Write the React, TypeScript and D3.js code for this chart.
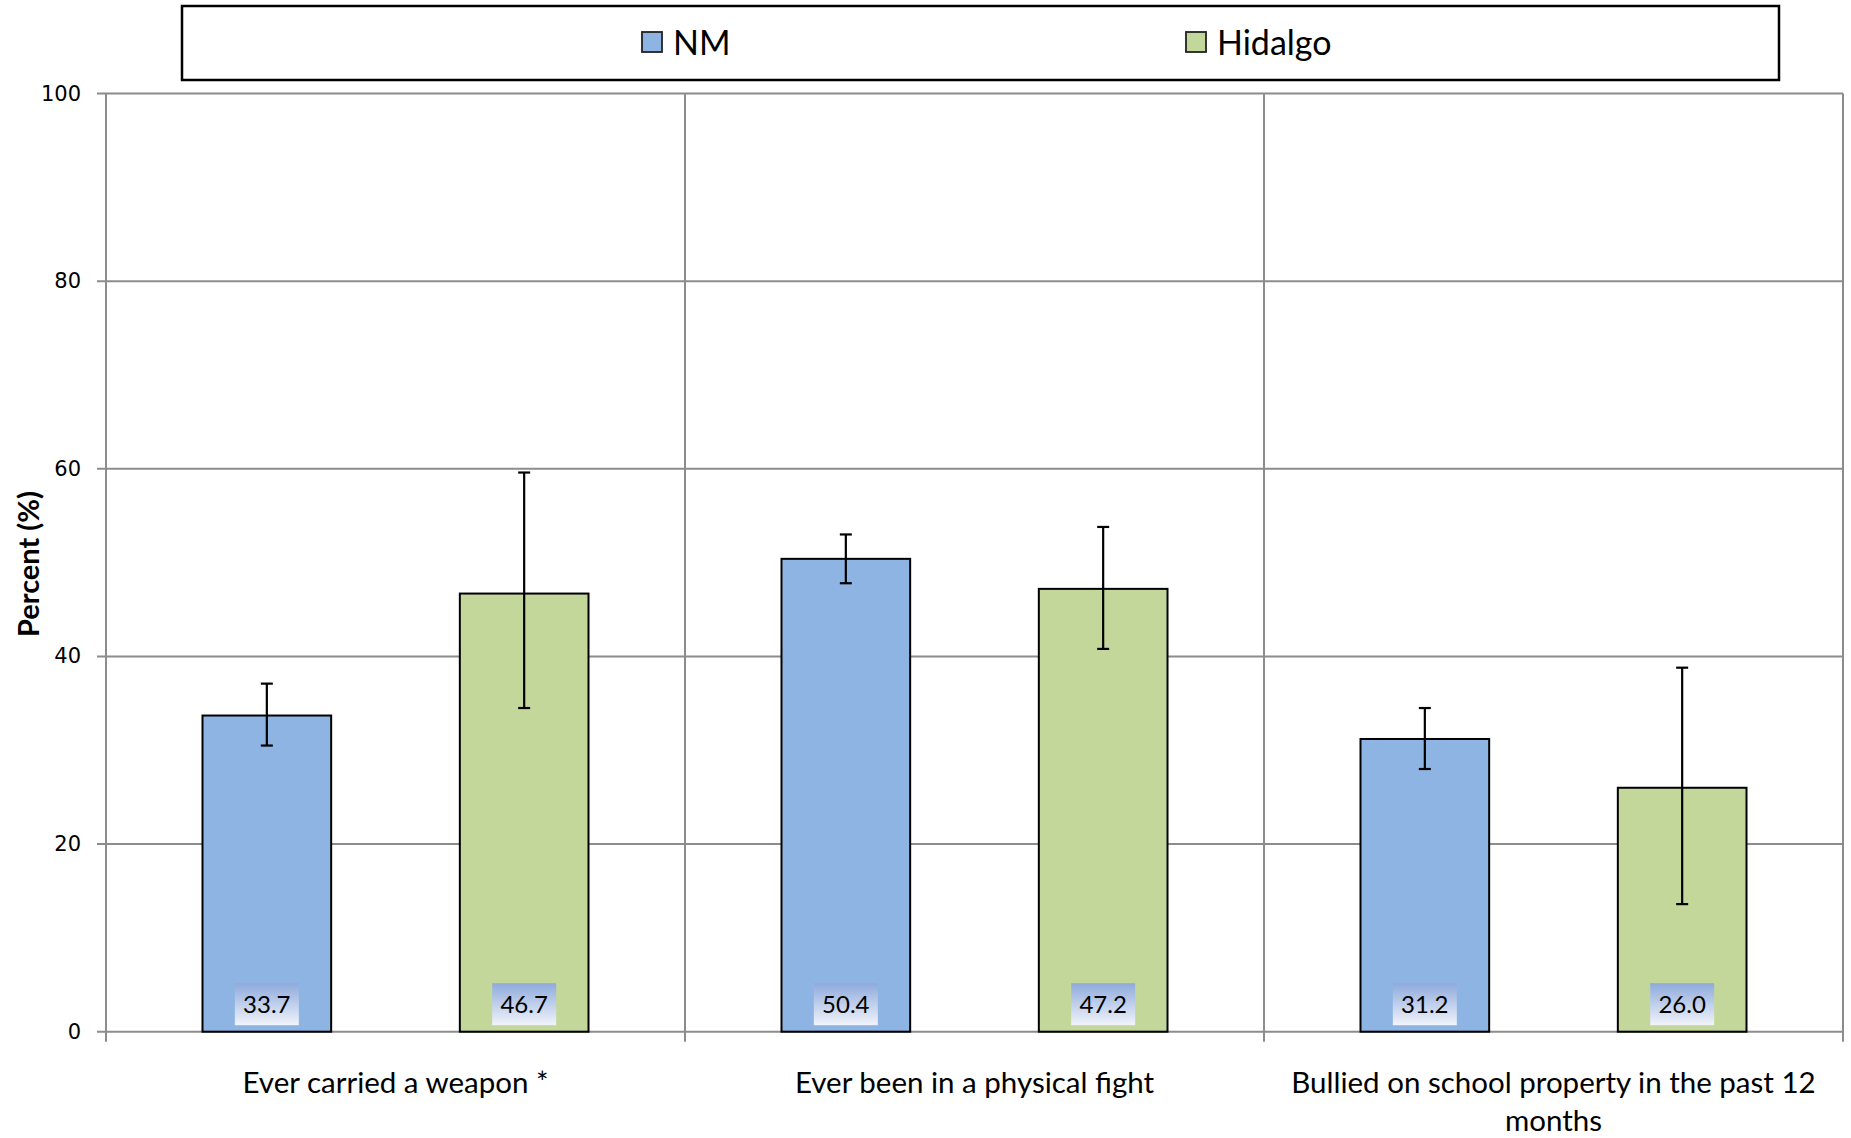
import React from "react";
import * as d3 from "d3";

const categories = ["weapon", "fight", "bullied"];
const categoryLabelLines = [
  ["Ever carried a weapon *"],
  ["Ever been in a physical fight"],
  ["Bullied on school property in the past 12", "months"],
];
const seriesNames = ["NM", "Hidalgo"];
const nmValues = [33.7, 50.4, 31.2];
const hidalgoValues = [46.7, 47.2, 26.0];
const nmLower = [30.5, 47.8, 28.0];
const nmUpper = [37.1, 53.0, 34.5];
const hidalgoLower = [34.5, 40.8, 13.6];
const hidalgoUpper = [59.6, 53.8, 38.8];
const yTicks = [0, 20, 40, 60, 80, 100];

const seriesColors = ["#8eb4e3", "#c4d79b"];
const FONT = "Lato, 'Open Sans', sans-serif";

export default function App() {
  const W = 1851;
  const H = 1138;
  const left = 106;
  const right = 1843;
  const top = 93.5;
  const bottom = 1031.7;

  const x0 = d3.scaleBand<string>().domain(categories).range([left, right]).padding(0);
  const x1 = d3
    .scaleBand<string>()
    .domain(seriesNames)
    .range([0, x0.bandwidth()])
    .paddingInner(0.5)
    .paddingOuter(0.375);
  const y = d3.scaleLinear().domain([0, 100]).range([bottom, top]);

  const series = [
    { name: "NM", values: nmValues, lower: nmLower, upper: nmUpper, color: seriesColors[0] },
    { name: "Hidalgo", values: hidalgoValues, lower: hidalgoLower, upper: hidalgoUpper, color: seriesColors[1] },
  ];

  const separators = [...categories.map((c) => x0(c) as number), right];
  const bw = x1.bandwidth();

  return (
    <svg
      width={W}
      height={H}
      style={{ position: "absolute", left: 0, top: 0, background: "#fff" }}
    >
      <defs>
        <linearGradient id="lblGrad" x1="0" y1="0" x2="0" y2="1">
          <stop offset="0" stopColor="#8eaadc" />
          <stop offset="1" stopColor="#f1f4fb" />
        </linearGradient>
      </defs>
      <rect x={0} y={0} width={W} height={H} fill="#fff" />

      {/* horizontal gridlines */}
      {yTicks.map((t) => (
        <g key={"g" + t}>
          <line x1={left - 9} x2={right} y1={y(t)} y2={y(t)} stroke="#8c8c8c" strokeWidth={2} />
          <text
            x={81}
            y={y(t)}
            textAnchor="end"
            dominantBaseline="central"
            fontFamily="'DejaVu Sans', Verdana, sans-serif"
            fontSize={21}
            fill="#000"
          >
            {t}
          </text>
        </g>
      ))}

      {/* vertical separators */}
      {separators.map((sx, i) => (
        <line key={"s" + i} x1={sx} x2={sx} y1={top} y2={bottom + 10} stroke="#8c8c8c" strokeWidth={2} />
      ))}

      {/* bars */}
      {series.map((s) =>
        categories.map((c, i) => {
          const bx = (x0(c) as number) + (x1(s.name) as number);
          const by = y(s.values[i]);
          return (
            <rect
              key={s.name + c}
              x={bx}
              y={by}
              width={bw}
              height={bottom - by}
              fill={s.color}
              stroke="#000"
              strokeWidth={2}
            />
          );
        })
      )}

      {/* error bars */}
      {series.map((s) =>
        categories.map((c, i) => {
          const cx = (x0(c) as number) + (x1(s.name) as number) + bw / 2;
          const yt = y(s.upper[i]);
          const yb = y(s.lower[i]);
          return (
            <g key={"e" + s.name + c} stroke="#000" strokeWidth={2.2}>
              <line x1={cx} x2={cx} y1={yt} y2={yb} />
              <line x1={cx - 6} x2={cx + 6} y1={yt} y2={yt} />
              <line x1={cx - 6} x2={cx + 6} y1={yb} y2={yb} />
            </g>
          );
        })
      )}

      {/* value labels */}
      {series.map((s) =>
        categories.map((c, i) => {
          const cx = (x0(c) as number) + (x1(s.name) as number) + bw / 2;
          return (
            <g key={"v" + s.name + c}>
              <rect x={cx - 32} y={bottom - 48.5} width={64} height={42} fill="url(#lblGrad)" />
              <text
                x={cx}
                y={bottom - 19}
                textAnchor="middle"
                fontFamily={FONT}
                fontSize={24}
                fill="#000"
              >
                {s.values[i].toFixed(1)}
              </text>
            </g>
          );
        })
      )}

      {/* x axis labels */}
      {categories.map((c, i) => {
        const cx = (x0(c) as number) + x0.bandwidth() / 2;
        return (
          <text key={"xl" + c} textAnchor="middle" fontFamily={FONT} fontSize={29.5} fill="#000">
            {categoryLabelLines[i].map((ln, j) => (
              <tspan key={j} x={cx} y={1092.5 + j * 38}>
                {ln}
              </tspan>
            ))}
          </text>
        );
      })}

      {/* y axis title */}
      <text
        transform={`translate(27,564) rotate(-90)`}
        textAnchor="middle"
        dominantBaseline="central"
        fontFamily={FONT}
        fontWeight="bold"
        fontSize={29}
        fill="#000"
      >
        Percent (%)
      </text>

      {/* legend */}
      <rect x={182} y={6} width={1597} height={74} fill="#fff" stroke="#000" strokeWidth={2.5} />
      {series.map((s, i) => {
        const lx = [642, 1186][i];
        return (
          <g key={"lg" + s.name}>
            <rect x={lx} y={32} width={20} height={20} fill={s.color} stroke="#222" strokeWidth={1.8} />
            <text
              x={lx + 31}
              y={41.5}
              dominantBaseline="central"
              fontFamily={FONT}
              fontSize={34}
              fill="#000"
            >
              {s.name}
            </text>
          </g>
        );
      })}
    </svg>
  );
}
